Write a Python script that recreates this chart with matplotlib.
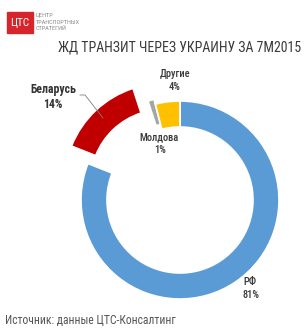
import matplotlib
matplotlib.use("Agg")
import matplotlib.pyplot as plt
from matplotlib.patches import Rectangle

categories = ["РФ", "Беларусь", "Молдова", "Другие"]
values = [81, 14, 1, 4]
colors = ["#5B9BD5", "#C00000", "#A5A5A5", "#FFC000"]
explode = [0.0, 24, 5, 0.0]
title = "ЖД ТРАНЗИТ ЧЕРЕЗ УКРАИНУ ЗА 7М2015"
source = "Источник: данные ЦТС-Консалтинг"

W, H = 305, 331
fig = plt.figure(figsize=(W / 100, H / 100), dpi=100)
ax = fig.add_axes([0, 0, 1, 1])

def Y(y):
    return H - y

R = 99
wedges, _ = ax.pie(values, colors=colors, startangle=90, counterclock=False,
                   explode=explode, radius=R, center=(180, Y(200)),
                   wedgeprops=dict(width=26, edgecolor="white", linewidth=1.2),
                   frame=True)
ax.set_xlim(0, W)
ax.set_ylim(0, H)
ax.set_aspect("equal")
ax.axis("off")

txt = "#3a3a3a"
cond = dict(family=["Roboto Condensed", "Roboto", "DejaVu Sans"])
ax.text(180, Y(48), title, ha="center", va="center", fontsize=10, color=txt, **cond)

# labels
ax.text(53, Y(90), "Беларусь", ha="center", va="center", fontsize=8.5, fontweight="bold", color="#333333", **cond)
ax.text(53, Y(104), "14%", ha="center", va="center", fontsize=8.5, fontweight="bold", color="#333333", **cond)
ax.plot([80, 85, 103], [Y(95), Y(95), Y(118)], color="#7f7f7f", lw=0.6)

lab = dict(ha="center", va="center", fontsize=7.5, color=txt, fontweight="medium", **cond)
ax.text(175, Y(74), "Другие", **lab)
ax.text(175, Y(87), "4%", **lab)
ax.text(159, Y(137), "Молдова", **lab)
ax.text(160, Y(150), "1%", **lab)
ax.text(250, Y(282), "РФ", **lab)
ax.text(251, Y(295), "81%", **lab)

# logo
ax.add_patch(Rectangle((7, Y(33)), 26, 21, color="#D7262B", zorder=3))
ax.text(20, Y(22.5), "ЦТС", ha="center", va="center", fontsize=8, color="white", zorder=4, **cond)
for i, line in enumerate(["ЦЕНТР", "ТРАНСПОРТНЫХ", "СТРАТЕГИЙ"]):
    ax.text(36, Y(15 + 7 * i), line, ha="left", va="center", fontsize=4.5, color="#8c8c8c", **cond)

ax.text(5, Y(321), source, ha="left", va="center", fontsize=8.4, color="#555555", **cond)

fig.savefig("out.png", dpi=100)
